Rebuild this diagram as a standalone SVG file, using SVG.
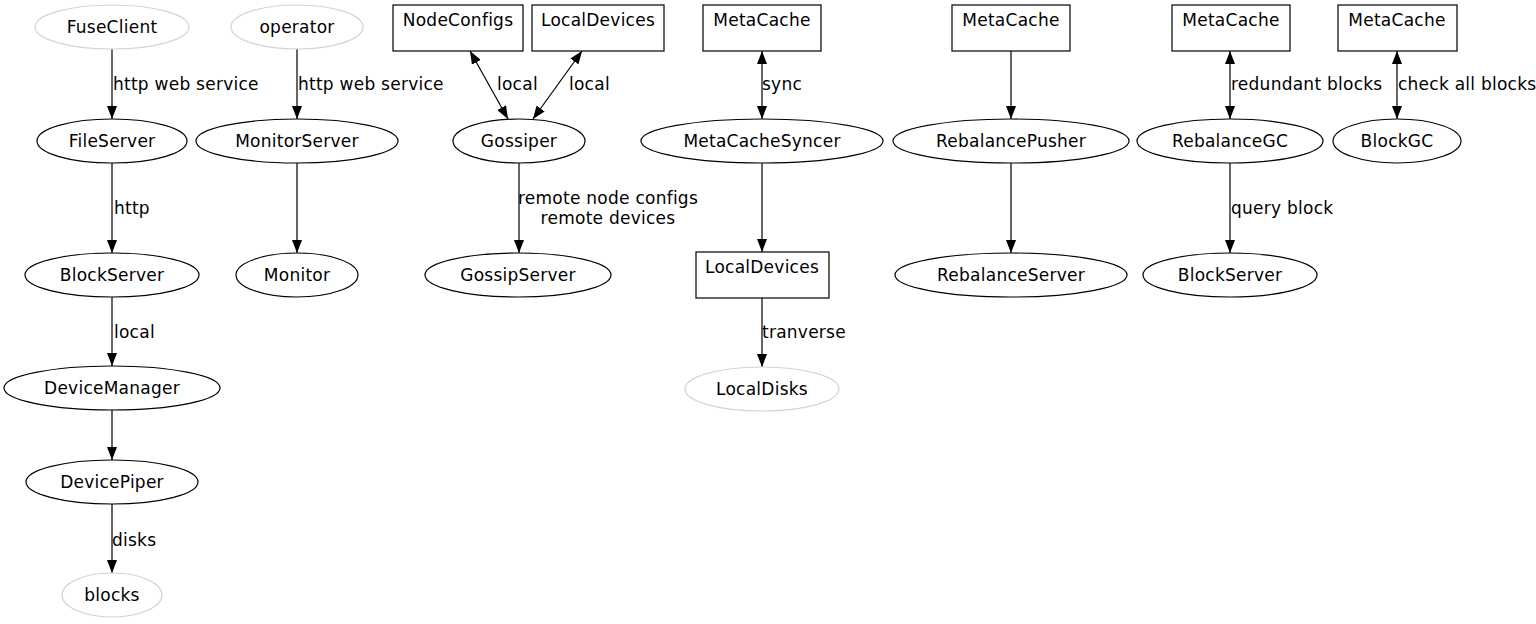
<svg xmlns="http://www.w3.org/2000/svg" width="1536" height="624" viewBox="0 0 1536 624">
<style>
text{font-family:"DejaVu Sans",sans-serif;font-size:17px;fill:#000;letter-spacing:0.25px}
.n{text-anchor:middle}
ellipse,rect{fill:#fff;stroke:#000;stroke-width:1.2}
.g ellipse{stroke:#d3d3d3}
.e{stroke:#000;stroke-width:1.2;fill:none;marker-end:url(#ah)}
.b{marker-start:url(#ah)}
</style>
<defs>
<marker id="ah" viewBox="0 0 13 10" refX="13" refY="5" markerWidth="13" markerHeight="10" markerUnits="userSpaceOnUse" orient="auto-start-reverse"><path d="M0,0 L13,5 L0,10 z" fill="#000"/></marker>
</defs>
<rect width="1536" height="624" fill="#fff" style="stroke:none"/>
<g id="connectors">
<path class="e" d="M112,49 L112,119"/>
<path class="e" d="M297,49 L297,119"/>
<path class="e" d="M112,163 L112,253"/>
<path class="e" d="M297,163 L297,253"/>
<path class="e" d="M112,297 L112,366"/>
<path class="e" d="M112,410 L112,460"/>
<path class="e" d="M112,504 L112,573"/>
<path class="e b" d="M470,51 L508,119"/>
<path class="e b" d="M582,51 L533,119"/>
<path class="e" d="M519,163 L519,253"/>
<path class="e b" d="M762,51 L762,119"/>
<path class="e" d="M762,163 L762,252"/>
<path class="e" d="M762,298 L762,367"/>
<path class="e" d="M1011,51 L1011,119"/>
<path class="e" d="M1011,163 L1011,253"/>
<path class="e b" d="M1230,51 L1230,119"/>
<path class="e" d="M1230,163 L1230,253"/>
<path class="e b" d="M1397,51 L1397,119"/>
<text x="113" y="90">http web service</text>
<text x="298" y="90">http web service</text>
<text x="114" y="214">http</text>
<text x="114" y="338">local</text>
<text x="112" y="546">disks</text>
<text x="497" y="90">local</text>
<text x="569" y="90">local</text>
<text x="608" y="204" class="n">remote node configs</text>
<text x="608" y="224" class="n">remote devices</text>
<text x="762" y="90">sync</text>
<text x="762" y="338">tranverse</text>
<text x="1231" y="90">redundant blocks</text>
<text x="1231" y="214">query block</text>
<text x="1398" y="90">check all blocks</text>
</g>
<g id="FuseClient" class="g"><ellipse cx="112" cy="27" rx="77" ry="22"/><text x="112" y="33" class="n">FuseClient</text></g>
<g id="operator" class="g"><ellipse cx="297" cy="27" rx="66" ry="22"/><text x="297" y="33" class="n">operator</text></g>
<g id="FileServer"><ellipse cx="112" cy="141" rx="75" ry="22"/><text x="112" y="147" class="n">FileServer</text></g>
<g id="MonitorServer"><ellipse cx="297" cy="141" rx="101" ry="22"/><text x="297" y="147" class="n">MonitorServer</text></g>
<g id="BlockServer"><ellipse cx="112" cy="275" rx="87" ry="22"/><text x="112" y="281" class="n">BlockServer</text></g>
<g id="Monitor"><ellipse cx="297" cy="275" rx="61" ry="22"/><text x="297" y="281" class="n">Monitor</text></g>
<g id="DeviceManager"><ellipse cx="112" cy="388" rx="108" ry="22"/><text x="112" y="394" class="n">DeviceManager</text></g>
<g id="DevicePiper"><ellipse cx="112" cy="482" rx="86" ry="22"/><text x="112" y="488" class="n">DevicePiper</text></g>
<g id="blocks" class="g"><ellipse cx="112" cy="595" rx="50" ry="22"/><text x="112" y="601" class="n">blocks</text></g>
<g id="NodeConfigs"><rect x="393" y="5" width="130" height="46"/><text x="458" y="26" class="n">NodeConfigs</text></g>
<g id="LocalDevices1"><rect x="532" y="5" width="132" height="46"/><text x="598" y="26" class="n">LocalDevices</text></g>
<g id="Gossiper"><ellipse cx="519" cy="141" rx="66" ry="22"/><text x="519" y="147" class="n">Gossiper</text></g>
<g id="GossipServer"><ellipse cx="518" cy="275" rx="93" ry="22"/><text x="518" y="281" class="n">GossipServer</text></g>
<g id="MetaCache1"><rect x="703" y="5" width="118" height="46"/><text x="762" y="26" class="n">MetaCache</text></g>
<g id="MetaCacheSyncer"><ellipse cx="762" cy="141" rx="121" ry="22"/><text x="762" y="147" class="n">MetaCacheSyncer</text></g>
<g id="LocalDevices2"><rect x="696" y="252" width="133" height="46"/><text x="762" y="273" class="n">LocalDevices</text></g>
<g id="LocalDisks" class="g"><ellipse cx="762" cy="389" rx="77" ry="22"/><text x="762" y="395" class="n">LocalDisks</text></g>
<g id="MetaCache2"><rect x="952" y="5" width="118" height="46"/><text x="1011" y="26" class="n">MetaCache</text></g>
<g id="RebalancePusher"><ellipse cx="1011" cy="141" rx="118" ry="22"/><text x="1011" y="147" class="n">RebalancePusher</text></g>
<g id="RebalanceServer"><ellipse cx="1011" cy="275" rx="116" ry="22"/><text x="1011" y="281" class="n">RebalanceServer</text></g>
<g id="MetaCache3"><rect x="1172" y="5" width="118" height="46"/><text x="1231" y="26" class="n">MetaCache</text></g>
<g id="RebalanceGC"><ellipse cx="1230" cy="141" rx="93" ry="22"/><text x="1230" y="147" class="n">RebalanceGC</text></g>
<g id="BlockServer2"><ellipse cx="1230" cy="275" rx="87" ry="22"/><text x="1230" y="281" class="n">BlockServer</text></g>
<g id="MetaCache4"><rect x="1338" y="5" width="119" height="46"/><text x="1397" y="26" class="n">MetaCache</text></g>
<g id="BlockGC"><ellipse cx="1397" cy="141" rx="64" ry="22"/><text x="1397" y="147" class="n">BlockGC</text></g>
</svg>
